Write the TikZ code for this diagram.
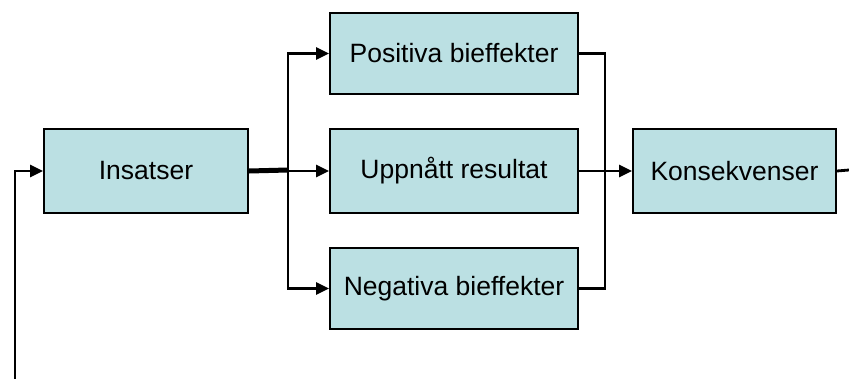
\documentclass[tikz,border=0pt]{standalone}
\usepackage{fontspec}
\setmainfont{Liberation Sans}
\usetikzlibrary{arrows.meta}
\definecolor{boxfill}{HTML}{BBE0E3}
\begin{document}
\begin{tikzpicture}[x=1pt,y=-1pt,
  box/.style={draw=black,line width=2pt,fill=boxfill,inner sep=0pt,anchor=north west,font=\fontsize{26.5}{30}\selectfont},
  conn/.style={line width=2.8pt,line cap=rect},
  arr/.style={conn,-{Triangle[length=13pt,width=12pt]}}]
\useasboundingbox (0,0) rectangle (849,378);
\node[box,minimum width=204pt,minimum height=84pt] (ins) at (43,128) {Insatser};
\node[box,minimum width=248pt,minimum height=81pt] (pos) at (329,12) {Positiva bieffekter};
\node[box,minimum width=248pt,minimum height=84pt] (upp) at (329,128) {Uppnått resultat};
\node[box,minimum width=248pt,minimum height=81pt] (neg) at (329,247) {Negativa bieffekter};
\node[box,minimum width=203pt,minimum height=84pt] (kon) at (632,128) {Konsekvenser};
\coordinate (lb) at (288,170);
\coordinate (rb) at (605,170);
\coordinate (fb) at (15,378);
\coordinate (out) at (849,170);
\draw[line width=5pt] (ins.east) -- (lb);
\draw[arr] (ins.east) -- (upp.west);
\draw[arr] (lb) |- (pos.west);
\draw[arr] (lb) |- (neg.west);
\draw[conn] (pos.east) -| (rb) |- (neg.east);
\draw[arr] (upp.east) -- (kon.west);
\draw[conn] (kon.east) -- (out);
\draw[arr] (fb) |- (ins.west);
\end{tikzpicture}
\end{document}
